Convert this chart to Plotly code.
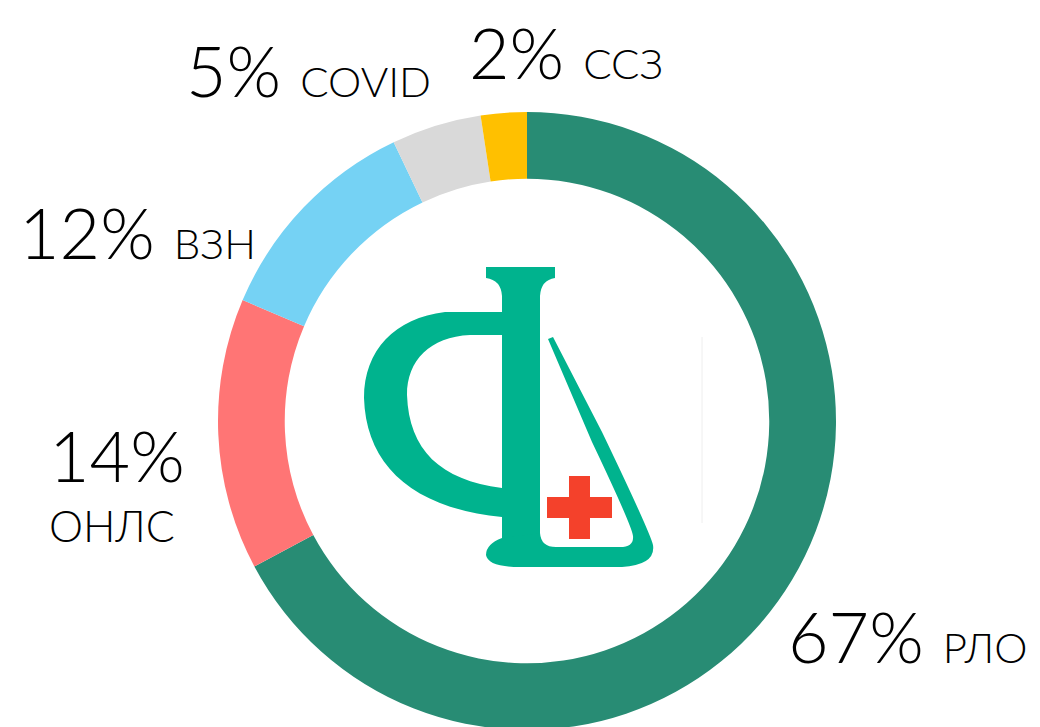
import plotly.graph_objects as go

# доли направлений льготного обеспечения, по часовой стрелке от 12 часов
categories = ["РЛО", "ОНЛС", "ВЗН", "COVID", "ССЗ"]
shares = [67.2, 14.2, 11.5, 4.7, 2.4]
colors = ["#288C74", "#FF7575", "#75D2F4", "#D9D9D9", "#FFC000"]

# где стоят подписи (пиксели экрана) и как они устроены
label_pos = [(908, 636), (117, 455), (137, 232), (308, 70), (566, 52)]
label_two_lines = [False, True, False, False, False]

W, H = 1040, 727
PAD = 8  # отступ body у страницы
FONT = "Lato, 'Open Sans', sans-serif"
LOGO_GREEN = "#00B38E"
CROSS_RED = "#F4412B"

cx, cy, r = 527 - PAD, 421 - PAD, 309

fig = go.Figure()
fig.add_trace(
    go.Pie(
        labels=categories,
        values=shares,
        marker=dict(colors=colors, line=dict(width=0)),
        hole=0.784,
        sort=False,
        direction="clockwise",
        rotation=0,
        textinfo="none",
        hoverinfo="label+percent",
        showlegend=False,
        domain=dict(x=[(cx - r) / W, (cx + r) / W], y=[1 - (cy + r) / H, 1 - (cy - r) / H]),
    )
)
# пустой след, чтобы появились оси в пикселях для логотипа
fig.add_trace(go.Scatter(x=[], y=[], showlegend=False, hoverinfo="skip"))

annotations = []
for name, val, (x, y), two in zip(categories, shares, label_pos, label_two_lines):
    if two:
        annotations.append(dict(x=x, y=y, text=f"{val:.0f}%", showarrow=False,
                                font=dict(size=70, family=FONT, color="#000000", weight=300),
                                xanchor="center", yanchor="middle"))
        annotations.append(dict(x=x - 5, y=y + 70, text=name, showarrow=False,
                                font=dict(size=43, family=FONT, color="#000000", weight=300),
                                xanchor="center", yanchor="middle"))
    else:
        annotations.append(dict(x=x, y=y,
                                text=f"{val:.0f}% <span style='font-size:42px'>{name}</span>",
                                showarrow=False,
                                font=dict(size=70, family=FONT, color="#000000", weight=300),
                                xanchor="center", yanchor="middle"))

logo_paths = [
    # ствол с верхней засечкой
    "M 486 267 L 555 267 L 555 278 Q 541 280 540 296 L 540 545 L 502 545 L 502 296 Q 501 280 486 278 Z",
    # левая чаша
    "M 502 312 L 445 312 C 395 318 364 350 364 398 C 366 465 412 508 502 517 "
    "L 502 488 C 440 480 409 450 407 395 C 407 360 430 337 470 335 L 502 335 Z",
    # основание и колба
    "M 502 538 Q 486 544 486 555 Q 488 567 520 567 L 622 567 Q 656 565 653 545 "
    "Q 650 532 602 432 L 553 337 L 548 339 L 592 442 Q 632 526 633 536 Q 634 547 620 547 "
    "L 556 547 Q 541 547 540 533 Z",
]
shapes = [dict(type="path", path=p, xref="x", yref="y", fillcolor=LOGO_GREEN,
               line=dict(width=0), layer="above") for p in logo_paths]
shapes += [
    dict(type="rect", x0=569, x1=590, y0=476, y1=539, xref="x", yref="y",
         fillcolor=CROSS_RED, line=dict(width=0)),
    dict(type="rect", x0=547, x1=612, y0=497, y1=518, xref="x", yref="y",
         fillcolor=CROSS_RED, line=dict(width=0)),
    dict(type="line", x0=702, x1=702, y0=337, y1=523, xref="x", yref="y",
         line=dict(color="#EEEEEE", width=1)),
]

fig.update_layout(
    width=W,
    height=H,
    margin=dict(l=0, r=0, t=0, b=0),
    paper_bgcolor="#FFFFFF",
    plot_bgcolor="rgba(0,0,0,0)",
    # оси в координатах экрана (с учётом отступа страницы)
    xaxis=dict(range=[PAD, W + PAD], visible=False, domain=[0, 1]),
    yaxis=dict(range=[H + PAD, PAD], visible=False, domain=[0, 1]),
    annotations=[dict(a, xref="x", yref="y") for a in annotations],
    shapes=shapes,
)

fig.write_html("out.html")
